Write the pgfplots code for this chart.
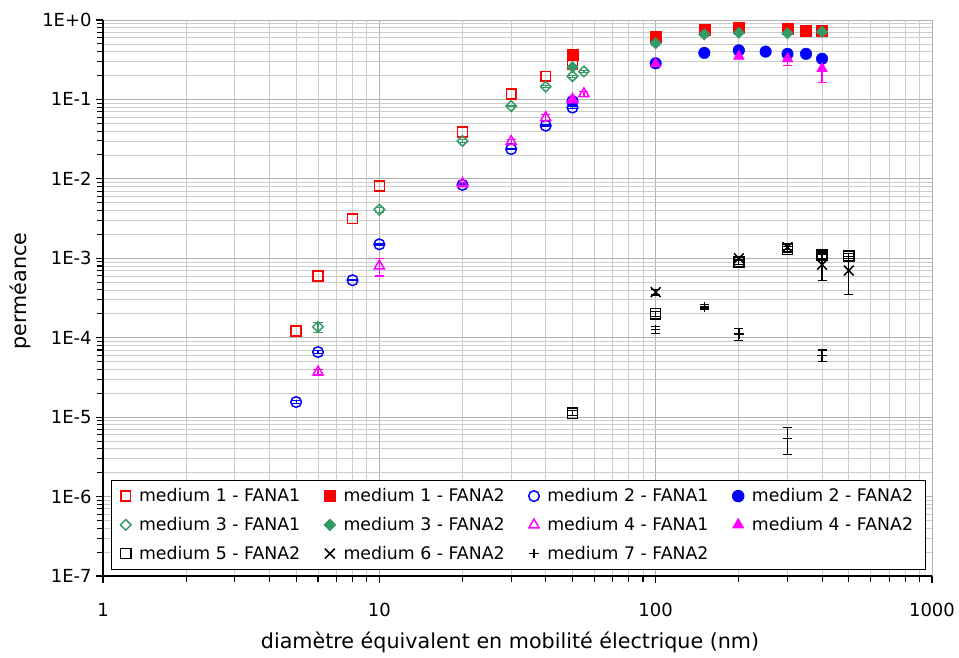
\documentclass[border=0pt]{standalone}
\usepackage{fontspec}
\setmainfont{DejaVu Sans}
\usepackage{pgfplots}
\pgfplotsset{compat=1.18}

\definecolor{mred}{RGB}{255,0,0}
\definecolor{mblue}{RGB}{0,0,255}
\definecolor{mgreen}{RGB}{51,153,102}
\definecolor{mmag}{RGB}{255,0,255}

% y error bars in the series colour
\pgfplotsset{
  eb/.style={
    error bars/.cd,
      y dir=both, y explicit, error mark=-,
      error bar style={line width=0.9pt, color=#1},
      error mark options={rotate=90, mark size=3.4pt, line width=0.9pt, color=#1},
  },
}

\begin{document}
\begin{tikzpicture}
\begin{axis}[
    at={(0pt,0pt)}, anchor=south west,
    scale only axis,
    width=621.75pt, height=417pt,
    xmode=log, ymode=log,
    xmin=1, xmax=1000,
    ymin=1e-7, ymax=1,
    xtick={1,10,100,1000},
    xticklabels={1,10,100,1000},
    ytick={1e-7,1e-6,1e-5,1e-4,1e-3,1e-2,1e-1,1},
    yticklabels={1E-7,1E-6,1E-5,1E-4,1E-3,1E-2,1E-1,1E+0},
    grid=both,
    major grid style={draw=black!30, line width=0.6pt},
    minor grid style={draw=black!20, line width=0.6pt},
    axis x line*=bottom, axis y line*=left,
    axis line style={-, black, line width=0.9pt},
    tick align=outside,
    tick style={black, line width=0.8pt},
    major tick length=5pt, minor tick length=4.5pt,
    tick label style={font=\fontsize{13.5}{16}\selectfont},
    xticklabel style={yshift=-12pt},
    /pgf/number format/assume math mode=true,
    xlabel={diamètre équivalent en mobilité électrique (nm)},
    ylabel={perméance},
    every axis x label/.style={at={(axis description cs:0.491,0)}, yshift=-50pt, anchor=center, font=\fontsize{15.5}{18}\selectfont},
    every axis y label/.style={at={(axis description cs:0,0.5126)}, xshift=-62pt, rotate=90, anchor=center, font=\fontsize{15.5}{18}\selectfont},
    legend columns=4,
    legend cell align=left,
    legend style={
        at={(0.0093,0.1727)}, anchor=north west,
        draw=black, line width=0.75pt, fill=white,
        font=\fontsize{13}{15}\selectfont,
        /tikz/every odd column/.append style={column sep=4pt},
        /tikz/every even column/.append style={column sep=16pt},
        row sep=6.2pt, inner xsep=7pt, inner ysep=4pt,
    },
]

% medium 1 - FANA1
\addplot[only marks, color=mred, mark=square, mark size=3.7pt, mark options={solid, line width=1.1pt}]
    coordinates {
    (5,1.22e-4) (6,6.0e-4) (8,3.15e-3) (10,8.1e-3)
    (20,0.039) (30,0.117) (40,0.196) (50,0.28)
    };
\addlegendentry{medium 1 - FANA1}

% medium 1 - FANA2
\addplot[only marks, color=mred, mark=square*, mark size=4.1pt]
    coordinates {
    (50,0.37) (100,0.62) (150,0.75) (200,0.80) (300,0.77) (350,0.74) (400,0.73)
    };
\addlegendentry{medium 1 - FANA2}

% medium 2 - FANA1
\addplot[only marks, color=mblue, mark=o, mark size=4pt, mark options={solid, line width=1.1pt}, eb=mblue]
    coordinates {
    (5,1.55e-5) +- (0,6e-7)
    (6,6.6e-5) +- (0,3e-6)
    (8,5.3e-4) +- (0,1e-5)
    (10,1.5e-3) +- (0,3e-5)
    (20,8.4e-3) +- (0,2e-4)
    (30,0.0237) +- (0,5e-4)
    (40,0.0467) +- (0,1e-3)
    (50,0.079) +- (0,2e-3)
    };
\addlegendentry{medium 2 - FANA1}

% medium 2 - FANA2
\addplot[only marks, color=mblue, mark=*, mark size=4.3pt]
    coordinates {
    (50,0.095) (100,0.285) (150,0.385) (200,0.415) (250,0.40) (300,0.375) (350,0.375) (400,0.325)
    };
\addlegendentry{medium 2 - FANA2}

% medium 3 - FANA1
\addplot[only marks, color=mgreen, mark=square, mark size=2.8pt, mark options={solid, rotate=45, line width=1.1pt}, eb=mgreen]
    coordinates {
    (6,1.37e-4) +- (0,2e-5)
    (10,4.1e-3) +- (0,3e-4)
    (20,0.030) +- (0,1e-3)
    (30,0.0826) +- (0,2e-3)
    (40,0.145) +- (0,4e-3)
    (50,0.196) +- (0,5e-3)
    (55,0.225) +- (0,5e-3)
    };
\addlegendentry{medium 3 - FANA1}

% medium 3 - FANA2
\addplot[only marks, color=mgreen, mark=square*, mark size=3pt, mark options={rotate=45}, eb=mgreen]
    coordinates {
    (50,0.255) +- (0,0.01)
    (100,0.51) +- (0,0.03)
    (150,0.66) +- (0,0.03)
    (200,0.69) +- (0,0.03)
    (300,0.68) +- (0,0.03)
    (400,0.71) +- (0,0.04)
    };
\addlegendentry{medium 3 - FANA2}

% medium 4 - FANA1
\addplot[only marks, color=mmag, mark=triangle, mark size=4.4pt, mark options={solid, line width=1.1pt}, eb=mmag]
    coordinates {
    (6,3.7e-5) +- (0,3e-6)
    (10,8.0e-4) +- (0,2e-4)
    (20,8.7e-3) +- (0,4e-4)
    (30,0.0295) +- (0,2e-3)
    (40,0.059) +- (0,5e-3)
    (50,0.100) +- (0,5e-3)
    (55,0.118) +- (0,8e-3)
    };
\addlegendentry{medium 4 - FANA1}

% medium 4 - FANA2
\addplot[only marks, color=mmag, mark=triangle*, mark size=4.6pt, eb=mmag]
    coordinates {
    (50,0.098) +- (0,0.005)
    (100,0.28) +- (0,0.01)
    (200,0.35) +- (0,0.02)
    (300,0.325) +- (0,0.06)
    (400,0.245) +- (0,0.08)
    };
\addlegendentry{medium 4 - FANA2}

% medium 5 - FANA2
\addplot[only marks, color=black, mark=square, mark size=3.8pt, mark options={solid, line width=1.1pt}, eb=black]
    coordinates {
    (50,1.12e-5) +- (0,8e-7)
    (100,2.0e-4) +- (0,1.5e-5)
    (200,9.0e-4) +- (0,6e-5)
    (300,1.3e-3) +- (0,1e-4)
    (400,1.1e-3) +- (0,1e-4)
    (500,1.07e-3) +- (0,8e-5)
    };
\addlegendentry{medium 5 - FANA2}

% medium 6 - FANA2
\addplot[only marks, color=black, mark=x, mark size=5.2pt, mark options={solid, line width=1.1pt}, eb=black]
    coordinates {
    (100,3.75e-4) +- (0,3e-5)
    (200,1.0e-3) +- (0,5e-5)
    (300,1.38e-3) +- (0,1e-4)
    (400,8.3e-4) +- (0,3e-4)
    (500,7.0e-4) +- (0,3.5e-4)
    };
\addlegendentry{medium 6 - FANA2}

% medium 7 - FANA2
\addplot[only marks, color=black, mark=+, mark size=3.6pt, mark options={solid, line width=1.1pt}, eb=black]
    coordinates {
    (100,1.27e-4) +- (0,1.3e-5)
    (150,2.45e-4) +- (0,1.5e-5)
    (200,1.12e-4) +- (0,2e-5)
    (300,5.4e-6) +- (0,2e-6)
    (400,6.0e-5) +- (0,1e-5)
    };
\addlegendentry{medium 7 - FANA2}

\end{axis}
\pgfresetboundingbox
\path[use as bounding box] (-77.25pt,-60.75pt) rectangle (642pt,432pt);
\end{tikzpicture}
\end{document}
